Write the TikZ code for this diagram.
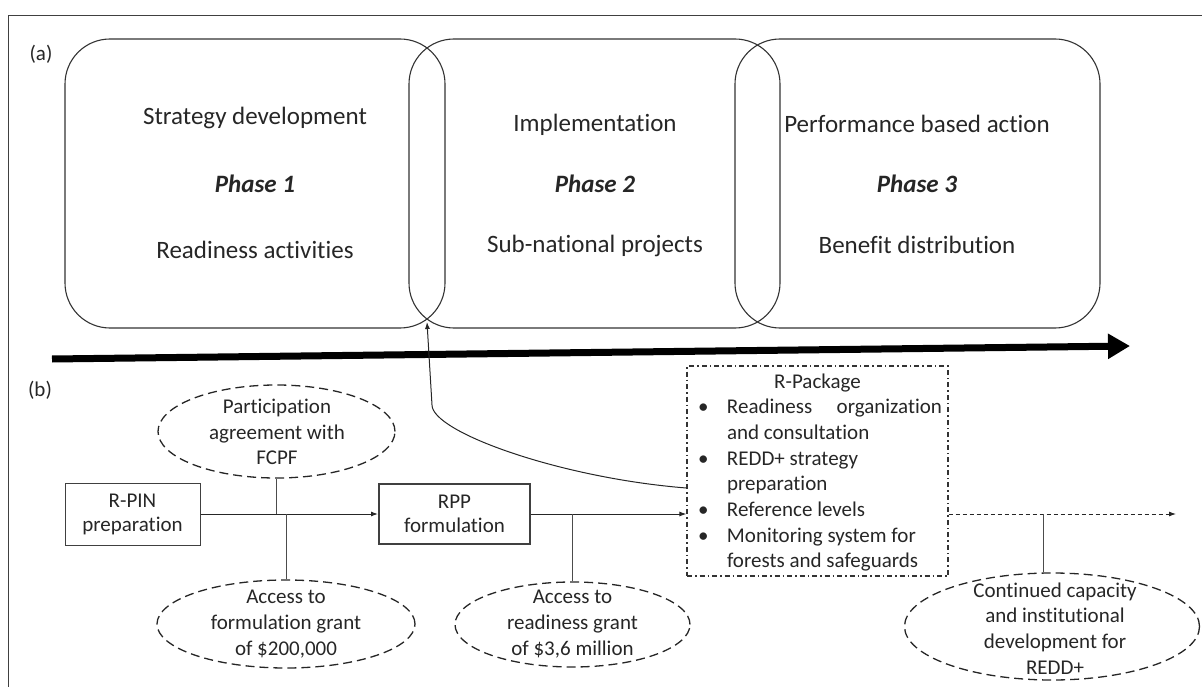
\documentclass[tikz,border=0pt]{standalone}
\usepackage{fontspec}
\setmainfont{Carlito}[Ligatures=NoCommon]
\usetikzlibrary{arrows.meta,shapes.geometric}
% bullet and hanging indent used in the R-Package list
\newcommand{\pkgbullet}{\hspace*{11pt}\makebox[29pt][l]{\textbullet}}
\newcommand{\pkgindent}{\hspace*{40pt}}
\begin{document}
\begin{tikzpicture}[x=1pt,y=-1pt,
  every node/.style={text=black!85},
  phasebox/.style={draw=black!80, line width=1.1pt, rounded corners=45pt,
    minimum height=289pt, inner sep=0pt},
  phasetxt/.style={font=\fontsize{25}{30}\selectfont, inner sep=0pt},
  phasehead/.style={font=\fontsize{25}{30}\selectfont\bfseries\itshape, inner sep=0pt},
  small/.style={font=\fontsize{21}{25.7}\selectfont, align=center, inner sep=0pt},
  stepbox/.style={draw=black!75, rectangle, inner sep=0pt, align=center,
    font=\fontsize{21}{24}\selectfont},
  bubble/.style={draw=black!85, ellipse, dash pattern=on 9pt off 5pt,
    line width=1.3pt, inner sep=0pt},
  link/.style={draw=black!70, line width=0.9pt},
  flow/.style={draw=black!85, line width=1pt, -{Latex[length=7pt,width=5pt]}},
]
\useasboundingbox (0,0) rectangle (1202,687);

% outer frame
\draw[black!75, line width=1pt] (8,687) -- (8,16) -- (1202,16);

% (a) overlapping phases
\node[phasebox, minimum width=380pt] (p1) at (255,183.5) {};
\node[phasebox, minimum width=371pt] (p2) at (594.5,183.5) {};
\node[phasebox, minimum width=365pt] (p3) at (917.5,183.5) {};

\node[phasetxt]  (p1a) at (255,118)   {Strategy development};
\node[phasehead] (p1b) at (255,183.5) {Phase 1};
\node[phasetxt]  (p1c) at (255,250)   {Readiness activities};

\node[phasetxt]  (p2a) at (595,125)   {Implementation};
\node[phasehead] (p2b) at (595,183.5) {Phase 2};
\node[phasetxt]  (p2c) at (595,246)   {Sub-national projects};

\node[phasetxt]  (p3a) at (917,123.5) {Performance based action};
\node[phasehead] (p3b) at (917,183.5) {Phase 3};
\node[phasetxt]  (p3c) at (917,244.5) {Benefit distribution};

\node[small] (la) at (41,54)  {(a)};
\node[small] (lb) at (40,390) {(b)};

% time line
\coordinate (tl0) at (52,359);
\coordinate (tl1) at (1130,346);
\draw[black, line width=7pt, -{Triangle[length=22pt,width=24pt]}] (tl0) -- (tl1);

% (b) readiness process
\node[stepbox, minimum width=135pt, minimum height=62pt, line width=1pt]
  (rpin) at (132.5,514) {R-PIN\\preparation};
\node[stepbox, minimum width=151pt, minimum height=60pt, line width=2pt]
  (rpp) at (454.5,514) {RPP\\formulation};

\node[draw=black!80, line width=1.2pt, dash pattern=on 5pt off 3pt on 1.5pt off 3pt,
  minimum width=261pt, minimum height=210pt, inner sep=0pt] (rpk) at (817.5,471) {};
\node[font=\fontsize{21}{25.7}\selectfont, align=left, inner sep=0pt] (rlist) at (817.5,472.5) {%
  \makebox[261pt]{R-Package}\\
  \pkgbullet\makebox[215pt][s]{Readiness organization}\\
  \pkgindent and consultation\\
  \pkgbullet REDD+ strategy\\
  \pkgindent preparation\\
  \pkgbullet Reference levels\\
  \pkgbullet Monitoring system for\\
  \pkgindent forests and safeguards};

% conditions
\node[bubble, minimum width=237pt, minimum height=93pt] (part) at (276.5,431.5) {};
\node[small] (partt) at (277,432) {Participation\\agreement with\\FCPF};

\node[bubble, minimum width=258pt, minimum height=88pt] (acc1) at (286,624) {};
\node[small] (acc1t) at (286,624) {Access to\\formulation grant\\of \$200,000};

\node[bubble, minimum width=235pt, minimum height=85pt] (acc2) at (572.5,624.5) {};
\node[small] (acc2t) at (572.5,624) {Access to\\readiness grant\\of \$3,6 million};

\node[bubble, minimum width=295pt, minimum height=107pt] (cont) at (1052,626.5) {};
\node[small] (contt) at (1055,628.5) {Continued capacity\\and institutional\\development for\\REDD+};

% connectors
\draw[flow] (rpin) -- (rpp);
\draw[flow] (rpp.east) -- (rpp.east -| rpk.west);
\draw[link] (part.south) -- (part.south |- rpin.east);
\draw[link] (acc1.north) -- (acc1.north |- rpin.east);
\draw[link] (acc2.north) -- (acc2.north |- rpp.east);

\coordinate (outend) at (1176,514);
\draw[flow, line width=0.9pt, dash pattern=on 4pt off 3pt] (rpp.east -| rpk.east) -- (outend);
\draw[link] ([xshift=-9pt]cont.north) -- ([xshift=-9pt]cont.north |- outend);

% link back to the phase 1 / phase 2 overlap
\coordinate (meet) at (427,322);
\draw[flow] ([yshift=-17pt]rpk.west) .. controls (560,478) and (432,432) .. (432,405) -- (meet);
\end{tikzpicture}
\end{document}
